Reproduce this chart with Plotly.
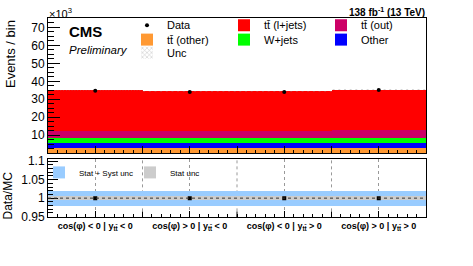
import plotly.graph_objects as go

# ---------------- data (Events in units of 10^3) ----------------
bins = [0, 1, 2, 3]
bin_labels = [
    "cos(φ) &lt; 0 | y<sub>tt̄</sub> &lt; 0",
    "cos(φ) &gt; 0 | y<sub>tt̄</sub> &lt; 0",
    "cos(φ) &lt; 0 | y<sub>tt̄</sub> &gt; 0",
    "cos(φ) &gt; 0 | y<sub>tt̄</sub> &gt; 0",
]
tt_other = [2.4, 2.4, 2.4, 2.4]
other = [3.3, 3.3, 3.3, 3.3]
wjets = [2.3, 2.3, 2.3, 2.7]
tt_out = [3.9, 3.9, 3.9, 4.1]
tt_lj = [22.9, 22.2, 22.2, 22.6]
data = [34.8, 34.1, 34.1, 35.1]
data_err = [0.19, 0.18, 0.18, 0.19]
unc_abs = [0.35, 0.35, 0.35, 0.35]
ratio_syst = [0.02, 0.02, 0.02, 0.02]
ratio_stat = [0.006, 0.006, 0.006, 0.006]

FONT = "Liberation Sans, Arial, Helvetica, sans-serif"
W, H = 473, 266

def px(x):
    return x / W

def py(y):
    return 1 - y / H

# stack components bottom -> top
stack = [
    ("tt̄ (other)", tt_other, "#FF9933", "legend2", 1),
    ("Other", other, "#0000FF", "legend2", 3),
    ("W+jets", wjets, "#00FF00", "legend2", 2),
    ("tt̄ (out)", tt_out, "#CC0066", "legend", 3),
    ("tt̄ (l+jets)", tt_lj, "#FF0000", "legend", 2),
]

fig = go.Figure()
base = [0.0] * len(bins)
for name, vals, col, leg, rank in stack:
    fig.add_trace(go.Bar(
        x=bins, y=vals, base=list(base), width=1, name=name,
        marker=dict(color=col, line=dict(width=0)),
        legend=leg, legendrank=rank, xaxis="x", yaxis="y",
    ))
    base = [b + v for b, v in zip(base, vals)]
total = base

fig.add_trace(go.Bar(
    x=bins, y=[2 * u for u in unc_abs], base=[t - u for t, u in zip(total, unc_abs)],
    width=1, name="Unc",
    marker=dict(color="rgba(0,0,0,0)", line=dict(width=0),
                pattern=dict(shape="x", fgcolor="#888888", bgcolor="rgba(255,255,255,0)", size=4, solidity=0.3)),
    legend="legend3", legendrank=1, xaxis="x", yaxis="y",
))

fig.add_trace(go.Scatter(
    x=bins, y=data, mode="markers", name="Data",
    marker=dict(color="black", size=4),
    error_y=dict(type="data", array=data_err, color="black", thickness=1, width=0),
    legend="legend", legendrank=1, xaxis="x", yaxis="y",
))

# ratio pad
fig.add_trace(go.Bar(
    x=bins, y=[2 * u for u in ratio_syst], base=[1 - u for u in ratio_syst], width=1,
    name="Stat + Syst unc", marker=dict(color="#99CCFF", line=dict(width=0)),
    legend="legend4", legendrank=1, xaxis="x2", yaxis="y2",
))
fig.add_trace(go.Bar(
    x=bins, y=[2 * u for u in ratio_stat], base=[1 - u for u in ratio_stat], width=1,
    name="Stat unc", marker=dict(color="#CCCCCC", line=dict(width=0)),
    legend="legend4", legendrank=2, xaxis="x2", yaxis="y2",
))
ratio = [d / t for d, t in zip(data, total)]
fig.add_trace(go.Scatter(
    x=bins, y=ratio, mode="markers", showlegend=False,
    marker=dict(color="black", size=4, symbol="square"),
    xaxis="x2", yaxis="y2",
))

xdom = [px(48), px(426)]
half_ticks = [-0.5 + 0.5 * i for i in range(9)]
edges = [b + 0.5 for b in bins[:-1]]

axis_common = dict(showline=True, linecolor="black", linewidth=1, mirror=True,
                   zeroline=False, ticks="inside", tickcolor="black")

shapes = [dict(type="line", xref="x2 domain", yref="y2", x0=0, x1=1, y0=1, y1=1,
               line=dict(color="#333333", width=1, dash="3px,3px"), layer="above")]
for e in edges:
    shapes.append(dict(type="line", xref="x2", yref="y2 domain", x0=e, x1=e, y0=0, y1=1,
                       line=dict(color="#999999", width=1, dash="dot"), layer="below"))
    shapes.append(dict(type="line", xref="x2", yref="y2 domain", x0=e, x1=e, y0=0, y1=0.1,
                       line=dict(color="black", width=1), layer="above"))

fig.update_layout(
    width=W, height=H, autosize=False,
    margin=dict(l=0, r=0, t=0, b=0),
    paper_bgcolor="white", plot_bgcolor="white",
    barmode="overlay", bargap=0,
    font=dict(family=FONT, color="black"),
    xaxis=dict(domain=xdom, range=[-0.5, 3.5], anchor="y", showticklabels=False,
               tickmode="array", tickvals=half_ticks, ticklen=7, showgrid=False,
               minor=dict(tickmode="linear", tick0=-0.5, dtick=0.1, ticks="inside", ticklen=3, tickcolor="black"),
               **axis_common),
    yaxis=dict(domain=[py(155), py(15)], range=[0, 75], anchor="x",
               tickmode="array", tickvals=[10, 20, 30, 40, 50, 60, 70], ticklen=12,
               tickfont=dict(size=12), showgrid=False,
               minor=dict(tickmode="linear", tick0=0, dtick=2.5, ticks="inside", ticklen=6, tickcolor="black"),
               **axis_common),
    xaxis2=dict(domain=xdom, range=[-0.5, 3.5], anchor="y2",
                tickmode="array", tickvals=bins, ticktext=["<b>" + t + "</b>" for t in bin_labels],
                ticklen=6, tickfont=dict(size=9),
                showgrid=True, gridcolor="#999999", griddash="dot", gridwidth=1,
                minor=dict(tickmode="linear", tick0=-0.5, dtick=0.1, ticks="inside", ticklen=3, tickcolor="black"),
                **axis_common),
    yaxis2=dict(domain=[py(221.7), py(161)], range=[0.948, 1.106], anchor="x2",
                tickmode="array", tickvals=[0.95, 1.0, 1.05, 1.1], ticktext=["0.95", "1", "1.05", "1.1"],
                ticklen=10, tickfont=dict(size=12), showgrid=False,
                minor=dict(tickmode="linear", tick0=0.95, dtick=0.01, ticks="inside", ticklen=5, tickcolor="black"),
                **axis_common),
    legend=dict(orientation="h", x=px(127), y=py(22), xanchor="left", yanchor="middle",
                entrywidth=52, entrywidthmode="pixels", traceorder="normal",
                font=dict(size=11), bgcolor="rgba(0,0,0,0)"),
    legend2=dict(orientation="h", x=px(127), y=py(37), xanchor="left", yanchor="middle",
                 entrywidth=52, entrywidthmode="pixels", traceorder="normal",
                 font=dict(size=11), bgcolor="rgba(0,0,0,0)"),
    legend3=dict(orientation="h", x=px(127), y=py(50.5), xanchor="left", yanchor="middle",
                 entrywidth=52, entrywidthmode="pixels", traceorder="normal",
                 font=dict(size=11), bgcolor="rgba(0,0,0,0)"),
    legend4=dict(orientation="h", x=px(39), y=py(175), xanchor="left", yanchor="middle",
                 entrywidth=46, entrywidthmode="pixels", traceorder="normal",
                 font=dict(size=8), bgcolor="rgba(0,0,0,0)"),
    shapes=shapes,
    annotations=[
        dict(text="×10<sup>3</sup>", x=px(47), y=py(9), xref="paper", yref="paper",
             xanchor="left", yanchor="middle", showarrow=False, font=dict(size=11)),
        dict(text="<b>CMS</b>", x=px(67), y=py(29), xref="paper", yref="paper",
             xanchor="left", yanchor="middle", showarrow=False, font=dict(size=15)),
        dict(text="<i>Preliminary</i>", x=px(67), y=py(48), xref="paper", yref="paper",
             xanchor="left", yanchor="middle", showarrow=False, font=dict(size=11.5)),
        dict(text="<b>138 fb<sup>-1</sup> (13 TeV)</b>", x=px(427), y=py(8), xref="paper", yref="paper",
             xanchor="right", yanchor="middle", showarrow=False, font=dict(size=10)),
        dict(text="Events / bin", x=px(10), y=py(52), xref="paper", yref="paper", textangle=-90,
             xanchor="center", yanchor="middle", showarrow=False, font=dict(size=13)),
        dict(text="Data/MC", x=px(8), y=py(199), xref="paper", yref="paper", textangle=-90,
             xanchor="center", yanchor="middle", showarrow=False, font=dict(size=12)),
    ],
)

fig.write_html("out.html", config={"displayModeBar": False},
               post_script="document.body.style.margin='0';document.body.style.padding='0';")
